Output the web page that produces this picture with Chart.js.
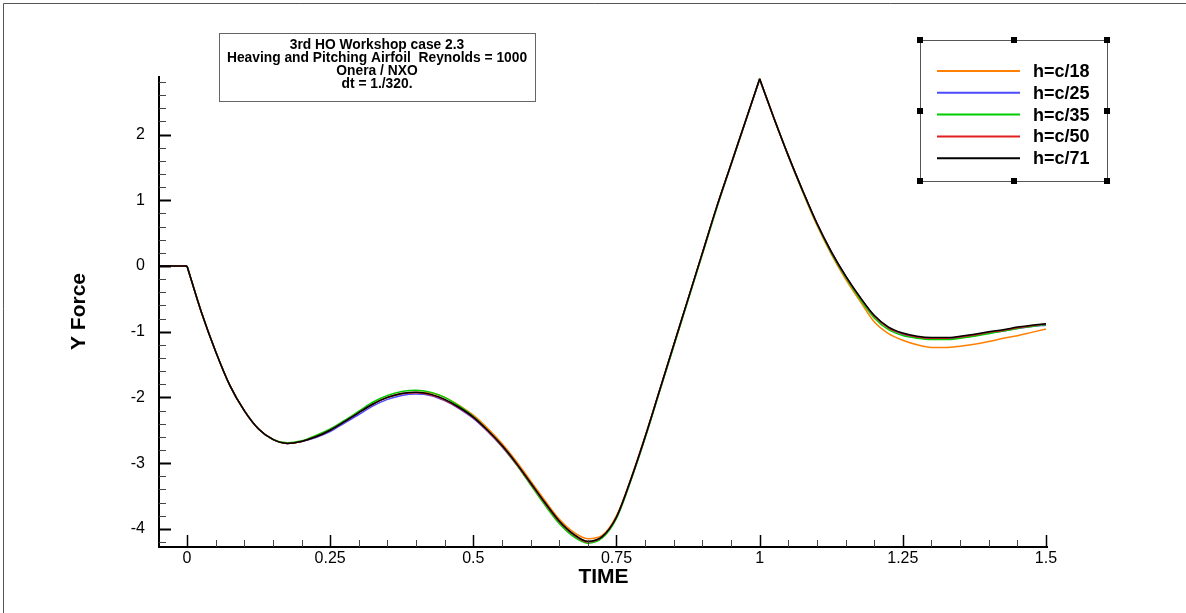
<!DOCTYPE html>
<html>
<head>
<meta charset="utf-8">
<script src="https://cdn.jsdelivr.net/npm/chart.js@4.4.1/dist/chart.umd.min.js"></script>
<style>
html,body{margin:0;padding:0;background:#fff;}
canvas{display:block;}
</style>
</head>
<body>
<canvas id="c" width="1186" height="613"></canvas>
<script>
// ---- data ----
const TIME = [-0.05, 0, 0.025, 0.05, 0.075, 0.1, 0.125, 0.15, 0.175, 0.2, 0.225, 0.25, 0.275, 0.3, 0.325, 0.35, 0.375, 0.4, 0.425, 0.45, 0.475, 0.5, 0.525, 0.55, 0.575, 0.6, 0.625, 0.65, 0.675, 0.7, 0.725, 0.75, 0.775, 0.8, 0.825, 0.85, 0.875, 0.9, 0.925, 0.95, 0.975, 1.0, 1.025, 1.05, 1.075, 1.1, 1.125, 1.15, 1.175, 1.2, 1.225, 1.25, 1.275, 1.3, 1.325, 1.35, 1.375, 1.4, 1.425, 1.45, 1.475, 1.5];

const h18 = [0, 0, -0.70, -1.30, -1.82, -2.20, -2.48, -2.64, -2.70, -2.67, -2.60, -2.50, -2.37, -2.23, -2.10, -2.00, -1.95, -1.92, -1.93, -2.00, -2.12, -2.27, -2.47, -2.70, -2.97, -3.27, -3.57, -3.85, -4.05, -4.15, -4.10, -3.80, -3.24, -2.59, -1.90, -1.20, -0.50, 0.20, 0.90, 1.55, 2.20, 2.84, 2.24, 1.67, 1.13, 0.62, 0.18, -0.20, -0.53, -0.85, -1.03, -1.13, -1.20, -1.24, -1.24, -1.22, -1.19, -1.15, -1.10, -1.06, -1.01, -0.96];
const h25 = [0, 0, -0.70, -1.30, -1.82, -2.20, -2.48, -2.64, -2.70, -2.67, -2.61, -2.52, -2.39, -2.26, -2.13, -2.03, -1.97, -1.95, -1.97, -2.05, -2.17, -2.32, -2.52, -2.75, -3.02, -3.32, -3.62, -3.90, -4.10, -4.20, -4.13, -3.83, -3.26, -2.61, -1.91, -1.21, -0.51, 0.19, 0.89, 1.54, 2.19, 2.84, 2.25, 1.68, 1.15, 0.65, 0.22, -0.15, -0.48, -0.76, -0.94, -1.04, -1.09, -1.11, -1.11, -1.09, -1.06, -1.02, -0.99, -0.95, -0.92, -0.90];
const h35 = [0, 0, -0.70, -1.30, -1.82, -2.20, -2.48, -2.64, -2.69, -2.66, -2.58, -2.48, -2.35, -2.21, -2.07, -1.97, -1.91, -1.89, -1.92, -2.00, -2.13, -2.29, -2.50, -2.74, -3.02, -3.33, -3.64, -3.92, -4.12, -4.22, -4.14, -3.84, -3.27, -2.62, -1.92, -1.22, -0.52, 0.18, 0.88, 1.54, 2.19, 2.85, 2.25, 1.68, 1.14, 0.64, 0.20, -0.17, -0.50, -0.79, -0.97, -1.06, -1.10, -1.12, -1.12, -1.10, -1.07, -1.03, -0.99, -0.95, -0.92, -0.89];
const h50 = [0, 0, -0.70, -1.30, -1.82, -2.20, -2.48, -2.64, -2.70, -2.67, -2.60, -2.50, -2.37, -2.23, -2.10, -2.00, -1.94, -1.93, -1.96, -2.04, -2.16, -2.31, -2.51, -2.74, -3.01, -3.31, -3.61, -3.89, -4.09, -4.20, -4.12, -3.82, -3.25, -2.60, -1.90, -1.20, -0.50, 0.20, 0.90, 1.55, 2.20, 2.85, 2.25, 1.68, 1.15, 0.65, 0.22, -0.15, -0.47, -0.76, -0.94, -1.03, -1.08, -1.10, -1.10, -1.08, -1.05, -1.01, -0.98, -0.94, -0.91, -0.88];
const h71 = [0, 0, -0.70, -1.30, -1.82, -2.20, -2.48, -2.64, -2.70, -2.67, -2.60, -2.50, -2.37, -2.23, -2.10, -2.00, -1.94, -1.92, -1.95, -2.03, -2.15, -2.30, -2.50, -2.73, -3.00, -3.30, -3.60, -3.88, -4.08, -4.19, -4.12, -3.82, -3.25, -2.60, -1.90, -1.20, -0.50, 0.20, 0.90, 1.55, 2.20, 2.85, 2.25, 1.68, 1.15, 0.65, 0.22, -0.15, -0.47, -0.75, -0.93, -1.02, -1.07, -1.09, -1.09, -1.07, -1.04, -1.00, -0.97, -0.93, -0.90, -0.88];

const seriesNames = ['h=c/18', 'h=c/25', 'h=c/35', 'h=c/50', 'h=c/71'];
const seriesValues = [h18, h25, h35, h50, h71];
const seriesColors = ['#ff8000', '#4b4bff', '#00cc00', '#e02020', '#000000'];

const xTickLabels = [0, 0.25, 0.5, 0.75, 1, 1.25, 1.5];
const yTickLabels = [-4, -3, -2, -1, 0, 1, 2];

const titleLines = ['3rd HO Workshop case 2.3', 'Heaving and Pitching Airfoil  Reynolds = 1000', 'Onera / NXO', 'dt = 1./320.'];
const xTitle = 'TIME';
const yTitle = 'Y Force';

// ---- build datasets (split at sharp corners t=0 and t=1) ----
const PEAK = TIME.indexOf(1.0);
const pieces = [[0, 2], [1, PEAK + 1], [PEAK, TIME.length]];
const datasets = [];
seriesValues.forEach((vals, si) => {
  pieces.forEach(([a, b]) => {
    const pts = [];
    for (let i = a; i < b; i++) pts.push({x: TIME[i], y: vals[i]});
    datasets.push({
      label: seriesNames[si],
      data: pts,
      borderColor: seriesColors[si],
      backgroundColor: seriesColors[si],
      borderWidth: 1.5,
      pointRadius: 0,
      fill: false,
      cubicInterpolationMode: 'monotone',
      order: seriesValues.length - si
    });
  });
});

const FONT = "'Liberation Sans', Arial, Helvetica, sans-serif";

const decor = {
  id: 'decor',
  afterDraw(chart) {
    const ctx = chart.ctx;
    const xs = chart.scales.x, ys = chart.scales.y;
    const ca = chart.chartArea;
    ctx.save();
    // outer frame lines
    ctx.strokeStyle = '#555';
    ctx.lineWidth = 1;
    ctx.beginPath();
    ctx.moveTo(3.5, 613); ctx.lineTo(3.5, 3.5); ctx.lineTo(1186, 3.5);
    ctx.stroke();

    // axes lines
    ctx.strokeStyle = '#000';
    ctx.lineWidth = 2;
    ctx.beginPath();
    ctx.moveTo(ca.left, ca.top); ctx.lineTo(ca.left, ca.bottom); ctx.lineTo(ca.right, ca.bottom);
    ctx.stroke();

    // x ticks (inward)
    for (let k = 0; k <= 30; k++) {
      const v = k * 0.05;
      const px = Math.round(xs.getPixelForValue(v)) + 0.5;
      const major = (k % 5 === 0);
      ctx.strokeStyle = major ? '#000' : '#444';
      ctx.lineWidth = major ? 1.5 : 1;
      ctx.beginPath();
      ctx.moveTo(px, ca.bottom);
      ctx.lineTo(px, ca.bottom - (major ? 12 : 7));
      ctx.stroke();
    }
    // y ticks (inward)
    for (let k = -21; k <= 14; k++) {
      const v = k * 0.2;
      const py = Math.round(ys.getPixelForValue(v)) + 0.5;
      if (py < ca.top || py > ca.bottom) continue;
      const major = (k % 5 === 0);
      ctx.strokeStyle = major ? '#000' : '#444';
      ctx.lineWidth = major ? 2 : 1;
      ctx.beginPath();
      ctx.moveTo(ca.left, py);
      ctx.lineTo(ca.left + (major ? 12 : 7), py);
      ctx.stroke();
    }

    // title box
    ctx.strokeStyle = '#666';
    ctx.lineWidth = 1;
    ctx.strokeRect(219.5, 33.5, 316, 68);
    ctx.fillStyle = '#000';
    ctx.font = 'bold 13.8px ' + FONT;
    ctx.textAlign = 'center';
    ctx.textBaseline = 'middle';
    titleLines.forEach((t, i) => ctx.fillText(t, 377, 45 + i * 13.2));

    // legend box
    ctx.strokeStyle = '#555';
    ctx.lineWidth = 1;
    ctx.strokeRect(920.5, 40.5, 187, 141);
    ctx.fillStyle = '#000';
    const hx = [920, 1014, 1107], hy = [40, 111, 181];
    hx.forEach((x, i) => hy.forEach((y, j) => {
      if (i === 1 && j === 1) return;
      ctx.fillRect(x - 3, y - 3, 6, 6);
    }));
    ctx.font = 'bold 18px ' + FONT;
    ctx.textAlign = 'left';
    ctx.textBaseline = 'middle';
    seriesNames.forEach((n, i) => {
      const y = 71 + i * 21.8;
      ctx.strokeStyle = seriesColors[i];
      ctx.lineWidth = 2;
      ctx.beginPath();
      ctx.moveTo(937, y); ctx.lineTo(1020, y);
      ctx.stroke();
      ctx.fillStyle = '#000';
      ctx.fillText(n, 1033, y + 1);
    });
    ctx.restore();
  }
};

new Chart(document.getElementById('c'), {
  type: 'line',
  data: { datasets },
  options: {
    responsive: false,
    devicePixelRatio: 1,
    animation: false,
    events: [],
    layout: { padding: { left: 0, top: 76, right: 138, bottom: 0 } },
    plugins: { legend: { display: false }, tooltip: { enabled: false }, title: { display: false } },
    scales: {
      x: {
        type: 'linear',
        min: -0.0489,
        max: 1.5035,
        grid: { display: false, drawTicks: false },
        border: { display: false },
        afterBuildTicks: (s) => { s.ticks = xTickLabels.map(v => ({ value: v })); },
        afterFit: (s) => { s.height = 66; },
        ticks: {
          autoSkip: false, maxRotation: 0, padding: 2, color: '#000',
          font: { family: FONT, size: 16 },
          callback: (v) => String(v)
        },
        title: {
          display: true, text: xTitle, color: '#000',
          font: { family: FONT, size: 21, weight: 'bold' },
          padding: { top: 0, bottom: 23 }
        }
      },
      y: {
        type: 'linear',
        min: -4.277,
        max: 2.892,
        grid: { display: false, drawTicks: false },
        border: { display: false },
        afterBuildTicks: (s) => { s.ticks = yTickLabels.map(v => ({ value: v })); },
        afterFit: (s) => { s.width = 159; },
        ticks: {
          autoSkip: false, padding: 14, color: '#000',
          font: { family: FONT, size: 16 },
          callback: (v) => String(v)
        },
        title: {
          display: true, text: yTitle, color: '#000',
          font: { family: FONT, size: 21, weight: 'bold' },
          padding: { top: 67, bottom: 0 }
        }
      }
    }
  },
  plugins: [decor]
});
</script>
</body>
</html>
